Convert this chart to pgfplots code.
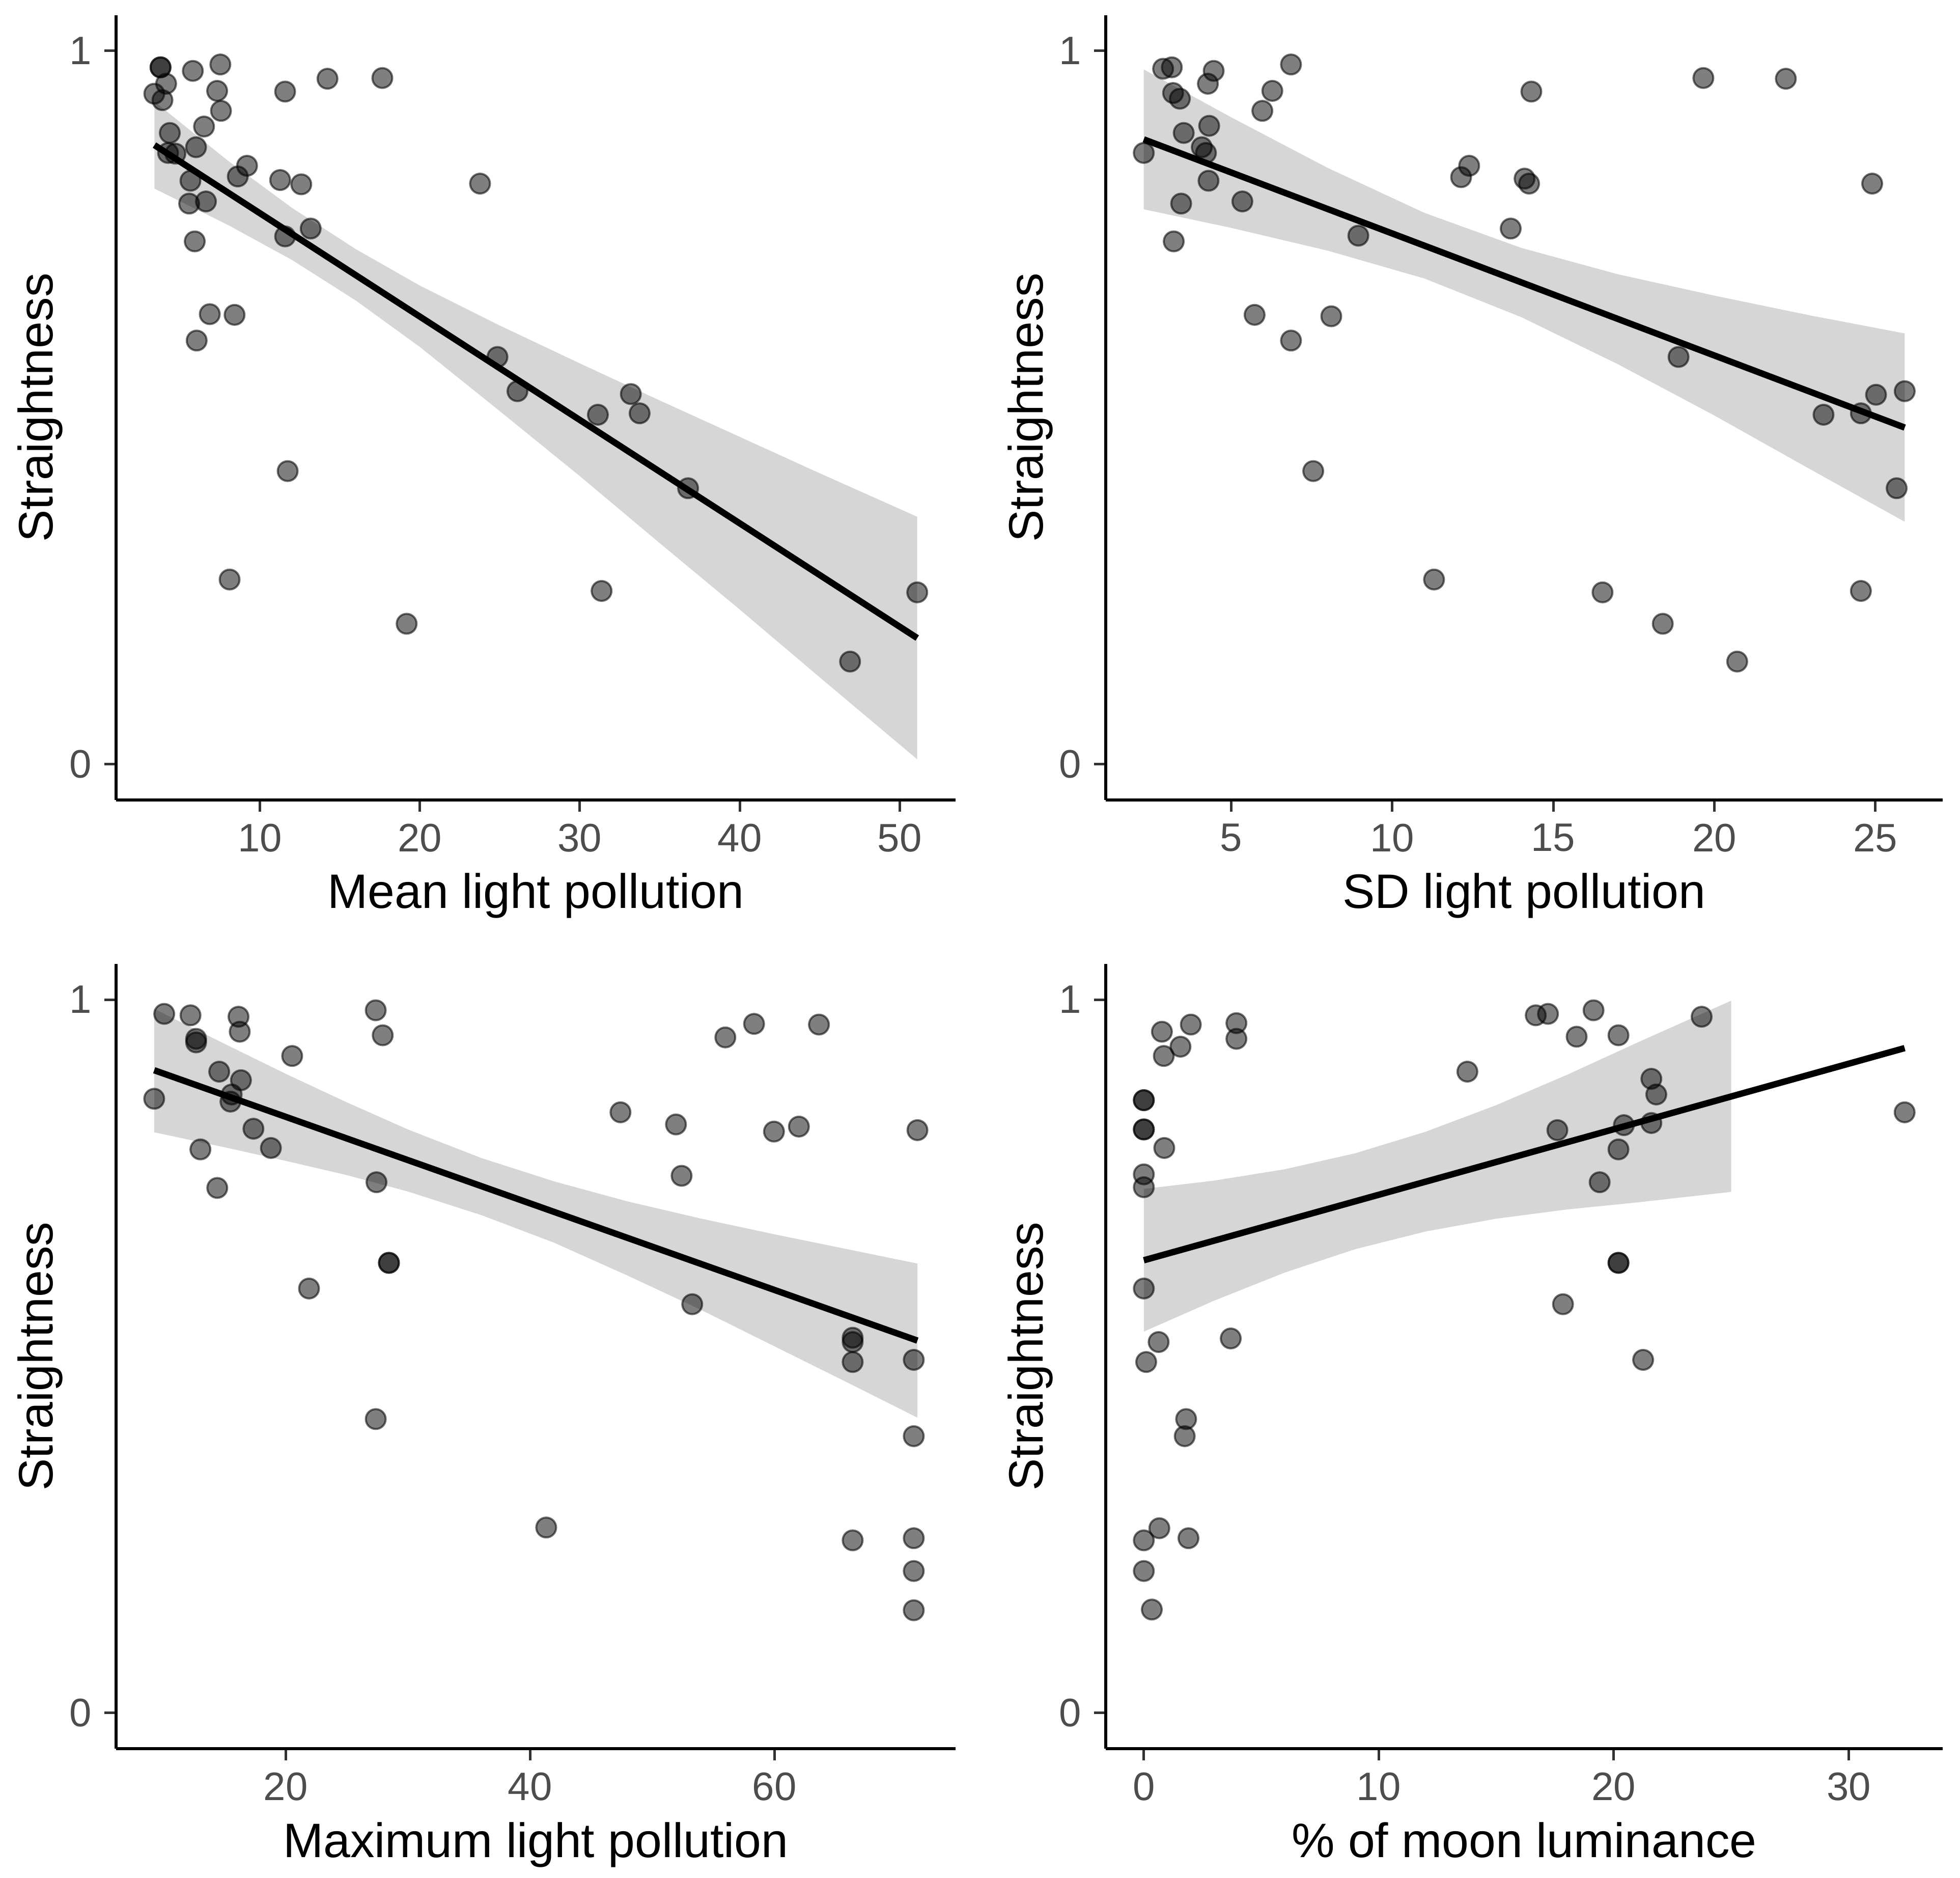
\documentclass[border=0pt]{standalone}
\usepackage{fontspec}
\setmainfont{Liberation Sans}
\usepackage{pgfplots}
\pgfplotsset{compat=1.18}
\definecolor{ribbon}{RGB}{214,214,214}
\definecolor{ticklab}{RGB}{77,77,77}
\definecolor{tickcol}{RGB}{51,51,51}
\pgfplotsset{
  gg/.style={
    scale only axis, height=154.1pt, anchor=south west,
    axis lines*=left,
    axis line style={black, line width=0.55pt},
    tick align=outside, major tick length=2.3pt,
    every tick/.style={tickcol, line width=0.5pt},
    ymin=-0.05, ymax=1.05, ytick={0,1},
    /pgf/number format/assume math mode=true,
    ticklabel style={font=\fontsize{7.8}{9}\selectfont, text=ticklab},
    xticklabel style={anchor=north, inner sep=0pt, yshift=-2.2pt},
    yticklabel style={anchor=east, inner sep=0pt, xshift=-2.3pt},
    every axis x label/.style={at={(axis description cs:0.5,0)}, yshift=-21.3pt, anchor=base, font=\fontsize{9.5}{11}\selectfont},
    every axis y label/.style={at={(axis description cs:0,0.5)}, xshift=-12.4pt, rotate=90, anchor=base, font=\fontsize{9.5}{11}\selectfont},
    ylabel={Straightness},
    clip=false,
  },
  band/.style={fill=ribbon, draw=none},
  pts/.style={only marks, mark=*, mark size=1.95pt,
    mark options={fill=black, fill opacity=0.5, draw=black, draw opacity=0.55, line width=0.4pt}},
  reg/.style={black, line width=1.25pt, no marks},
}
\begin{document}
\begin{tikzpicture}
\path[use as bounding box] (0,0) rectangle (385pt,368.8pt);
% Panel 1
\begin{axis}[gg, at={(22.8pt,211.7pt)}, width=164.9pt, xmin=1.0, xmax=53.5,
  xtick={10,20,30,40,50}, xlabel={Mean light pollution}]
\addplot[band] coordinates {(3.4,0.929)(8,0.846)(12,0.780)(16,0.722)(20,0.671)(25,0.615)(30,0.562)(35,0.510)(40,0.459)(45,0.408)(51.1,0.347)
 (51.1,0.007)(45,0.122)(40,0.217)(35,0.310)(30,0.404)(25,0.495)(20,0.585)(16,0.650)(12,0.707)(8,0.756)(3.4,0.807)};
\addplot[pts] coordinates {(3.78,0.977)(3.78,0.977)(3.39,0.940)(4.13,0.954)(3.90,0.931)(5.80,0.972)(7.52,0.981)(7.32,0.944)(7.56,0.916)(6.50,0.894)(4.36,0.885)(6.00,0.865)(4.25,0.857)(4.71,0.856)(5.65,0.818)(5.57,0.786)(6.62,0.789)(5.92,0.733)(6.86,0.631)(8.41,0.630)(6.04,0.594)(8.61,0.824)(9.19,0.839)(11.26,0.819)(12.58,0.813)(11.57,0.740)(13.17,0.751)(11.57,0.943)(14.22,0.961)(17.65,0.962)(23.76,0.814)(24.85,0.571)(26.10,0.523)(31.13,0.490)(33.19,0.519)(33.74,0.492)(36.77,0.387)(11.73,0.411)(8.10,0.259)(19.17,0.197)(31.36,0.243)(51.10,0.241)(46.90,0.144)};
\addplot[reg] coordinates {(3.4,0.868)(51.1,0.177)};
\end{axis}
% Panel 2
\begin{axis}[gg, at={(217.2pt,211.7pt)}, width=164.4pt, xmin=1.11, xmax=27.09,
  xtick={5,10,15,20,25}, xlabel={SD light pollution}]
\addplot[band] coordinates {(2.29,0.974)(5,0.907)(8,0.836)(11,0.773)(14,0.724)(17,0.687)(20,0.657)(23,0.629)(25.91,0.604)
 (25.91,0.340)(23,0.413)(20,0.489)(17,0.561)(14,0.627)(11,0.681)(8,0.720)(5,0.752)(2.29,0.778)};
\addplot[pts] coordinates {(2.89,0.975)(3.16,0.977)(3.20,0.941)(3.41,0.933)(4.28,0.954)(4.46,0.972)(6.86,0.981)(6.28,0.944)(5.97,0.916)(3.53,0.885)(4.32,0.895)(2.29,0.857)(4.09,0.865)(4.22,0.857)(4.30,0.818)(3.45,0.786)(5.35,0.789)(3.22,0.733)(8.95,0.741)(5.73,0.630)(8.11,0.628)(6.86,0.594)(7.55,0.411)(11.30,0.259)(12.14,0.823)(12.39,0.839)(14.11,0.821)(14.25,0.814)(13.68,0.751)(14.32,0.943)(19.66,0.962)(22.22,0.961)(24.90,0.814)(18.89,0.571)(23.39,0.490)(24.55,0.492)(25.02,0.518)(25.91,0.523)(25.66,0.387)(16.53,0.241)(18.40,0.197)(24.55,0.243)(20.71,0.144)};
\addplot[reg] coordinates {(2.29,0.876)(25.91,0.472)};
\end{axis}
% Panel 3
\begin{axis}[gg, at={(22.8pt,25.4pt)}, width=164.9pt, xmin=6.12, xmax=74.82,
  xtick={20,40,60}, xlabel={Maximum light pollution}]
\addplot[band] coordinates {(9.24,0.987)(15,0.938)(20,0.896)(25,0.856)(30,0.818)(36,0.778)(42,0.745)(48,0.717)(54,0.693)(60,0.671)(66,0.650)(71.7,0.630)
 (71.7,0.414)(66,0.463)(60,0.514)(54,0.565)(48,0.613)(42,0.659)(36,0.698)(30,0.731)(25,0.754)(20,0.774)(15,0.793)(9.24,0.814)};
\addplot[pts] coordinates {(9.24,0.861)(10.06,0.980)(12.21,0.978)(12.67,0.945)(12.67,0.940)(16.14,0.976)(16.24,0.955)(14.56,0.899)(16.34,0.887)(15.58,0.867)(15.48,0.857)(17.36,0.819)(18.79,0.792)(13.02,0.790)(14.40,0.736)(20.53,0.921)(21.91,0.595)(27.37,0.985)(27.94,0.950)(27.43,0.744)(28.45,0.631)(28.45,0.631)(27.37,0.412)(41.32,0.260)(47.40,0.842)(51.94,0.825)(52.40,0.753)(53.27,0.573)(55.98,0.947)(58.33,0.966)(63.64,0.965)(59.96,0.815)(62.00,0.822)(71.70,0.817)(66.40,0.526)(66.40,0.520)(66.40,0.492)(71.40,0.495)(71.40,0.388)(66.40,0.242)(71.40,0.245)(71.40,0.199)(71.40,0.144)};
\addplot[reg] coordinates {(9.24,0.901)(71.7,0.522)};
\end{axis}
% Panel 4
\begin{axis}[gg, at={(217.2pt,25.4pt)}, width=164.4pt, xmin=-1.62, xmax=34.0,
  xtick={0,10,20,30}, xlabel={\% of moon luminance}]
\addplot[band] coordinates {(0,0.7346)(3,0.7463)(6,0.7622)(9,0.7846)(12,0.8148)(15,0.8521)(18,0.8944)(21,0.9397)(25,0.9985)
 (25,0.7305)(21,0.7157)(18,0.7058)(15,0.6929)(12,0.6750)(9,0.6502)(6,0.6174)(3,0.5781)(0,0.5346)};
\addplot[pts] coordinates {(0,0.859)(0,0.859)(0,0.818)(0,0.818)(0,0.755)(0,0.737)(0,0.595)(0.10,0.492)(0.63,0.520)(0.87,0.792)(0.77,0.955)(0.85,0.921)(1.56,0.934)(2.00,0.965)(3.94,0.967)(3.94,0.945)(3.70,0.525)(1.80,0.412)(1.74,0.388)(0.66,0.259)(0,0.242)(1.90,0.245)(0,0.199)(0.34,0.145)(13.77,0.899)(16.68,0.978)(17.20,0.980)(19.14,0.985)(18.42,0.948)(20.20,0.950)(23.74,0.976)(21.60,0.889)(21.81,0.867)(20.43,0.824)(21.60,0.827)(17.60,0.817)(20.20,0.790)(19.40,0.744)(20.20,0.631)(20.20,0.631)(17.84,0.573)(21.25,0.495)(32.38,0.842)};
\addplot[reg] coordinates {(0,0.6346)(32.38,0.932)};
\end{axis}
\end{tikzpicture}
\end{document}
